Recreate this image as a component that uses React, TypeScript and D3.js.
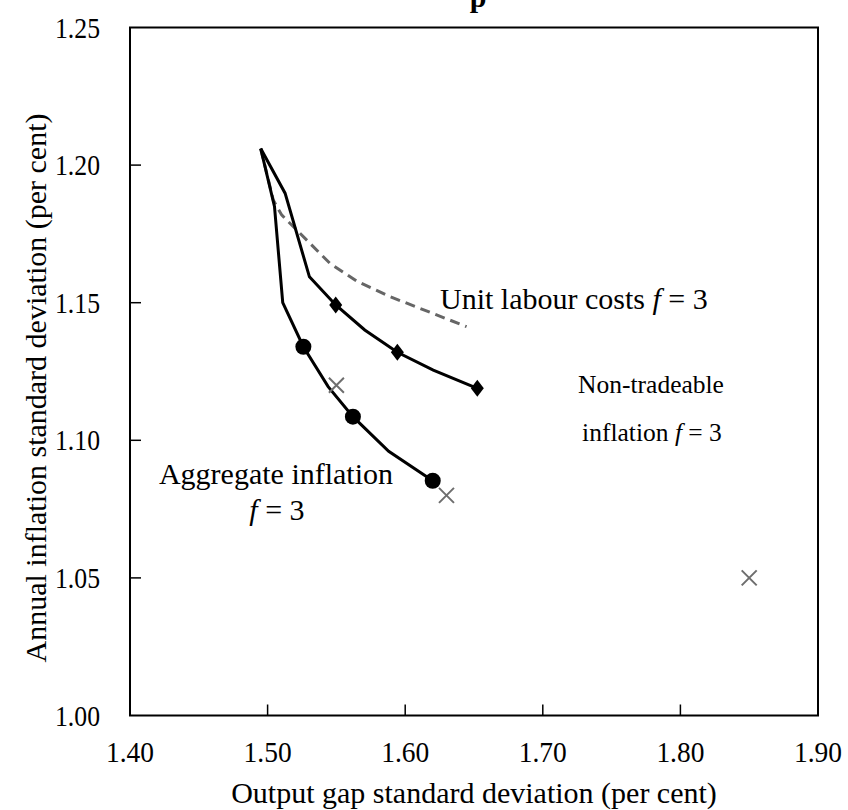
import React from "react";
import * as d3 from "d3";

const xTicks = [1.4, 1.5, 1.6, 1.7, 1.8, 1.9];
const yTicks = [1.0, 1.05, 1.1, 1.15, 1.2, 1.25];

// Aggregate inflation frontier (f = 3)
const aggLine: [number, number][] = [
  [1.495, 1.206], [1.505, 1.185], [1.511, 1.15], [1.526, 1.134],
  [1.544, 1.1195], [1.562, 1.1086], [1.588, 1.096], [1.62, 1.0853],
];
const aggMarkers: [number, number][] = [[1.526, 1.134], [1.562, 1.1086], [1.62, 1.0853]];

// Non-tradeable inflation frontier (f = 3)
const ntLine: [number, number][] = [
  [1.495, 1.206], [1.5127, 1.1898], [1.5304, 1.1594], [1.5495, 1.1492],
  [1.5706, 1.1401], [1.5943, 1.132], [1.6204, 1.1255], [1.6524, 1.1189],
];
const ntMarkers: [number, number][] = [[1.5495, 1.1492], [1.5943, 1.132], [1.6524, 1.1189]];

// Unit labour costs frontier (f = 3)
const ulcLine: [number, number][] = [
  [1.495, 1.206], [1.5041, 1.1873], [1.5102, 1.1819], [1.5453, 1.1643],
  [1.5648, 1.1578], [1.589, 1.1522], [1.6446, 1.1413],
];

// Single points (crosses)
const crossPoints: [number, number][] = [[1.55, 1.12], [1.63, 1.08], [1.85, 1.05]];

const W = 848, H = 810;
const L = 130, R = 818, T = 27.5, B = 715.5;
const FONT = "'Liberation Serif', 'Times New Roman', serif";

export default function App() {
  const x = d3.scaleLinear().domain([1.4, 1.9]).range([L, R]);
  const y = d3.scaleLinear().domain([1.0, 1.25]).range([B, T]);
  const line = d3.line<[number, number]>().x(d => x(d[0])).y(d => y(d[1]));
  const fs = 30;
  const tfs = 29;
  return (
    <svg width={W} height={H} style={{ position: "absolute", left: 0, top: 0, background: "#fff" }}
      fontFamily={FONT}>
      <text x={478} y={7} fontSize={30} fontWeight="bold" textAnchor="middle">p</text>
      {/* box */}
      <rect x={L} y={T} width={R - L} height={B - T} fill="none" stroke="#000" strokeWidth={2} />
      {/* ticks */}
      {xTicks.slice(1, -1).map(t => (
        <line key={"xt" + t} x1={x(t)} x2={x(t)} y1={B} y2={B - 11} stroke="#000" strokeWidth={1.5} />
      ))}
      {yTicks.slice(1, -1).map(t => (
        <line key={"yt" + t} x1={L} x2={L + 11} y1={y(t)} y2={y(t)} stroke="#000" strokeWidth={1.5} />
      ))}
      {xTicks.map(t => (
        <text key={"xl" + t} x={x(t) - 24} y={762} fontSize={tfs} textLength={48}
          lengthAdjust="spacingAndGlyphs">{t.toFixed(2)}</text>
      ))}
      {yTicks.map(t => (
        <text key={"yl" + t} x={55} y={y(t) + 10} fontSize={tfs} textLength={45}
          lengthAdjust="spacingAndGlyphs">{t.toFixed(2)}</text>
      ))}
      <text x={474} y={803} fontSize={fs} textAnchor="middle">Output gap standard deviation (per cent)</text>
      <text transform={`translate(46,388) rotate(-90)`} fontSize={fs} textAnchor="middle">
        Annual inflation standard deviation (per cent)
      </text>

      {/* lines */}
      <path d={line(ulcLine) || ""} fill="none" stroke="#666" strokeWidth={3} strokeDasharray="10,6" />
      <path d={line(ntLine) || ""} fill="none" stroke="#000" strokeWidth={3} />
      <path d={line(aggLine) || ""} fill="none" stroke="#000" strokeWidth={3} />

      {aggMarkers.map((p, i) => (
        <circle key={"c" + i} cx={x(p[0])} cy={y(p[1])} r={8} fill="#000" />
      ))}
      {ntMarkers.map((p, i) => {
        const cx = x(p[0]), cy = y(p[1]);
        return <path key={"d" + i} d={`M${cx},${cy - 8.5}L${cx + 6.5},${cy}L${cx},${cy + 8.5}L${cx - 6.5},${cy}Z`} fill="#000" />;
      })}
      {crossPoints.map((p, i) => {
        const cx = x(p[0]), cy = y(p[1]), s = 7.5;
        return (
          <path key={"x" + i} d={`M${cx - s},${cy - s}L${cx + s},${cy + s}M${cx - s},${cy + s}L${cx + s},${cy - s}`}
            stroke="#6e6e6e" strokeWidth={2} fill="none" />
        );
      })}

      {/* labels */}
      <text x={440} y={309} fontSize={fs}>Unit labour costs <tspan fontStyle="italic">f</tspan> = 3</text>
      <text x={651} y={393} fontSize={25.5} textAnchor="middle">Non-tradeable</text>
      <text x={652} y={441} fontSize={25.5} textAnchor="middle">inflation <tspan fontStyle="italic">f</tspan> = 3</text>
      <text x={276} y={484} fontSize={fs} textAnchor="middle">Aggregate inflation</text>
      <text x={277} y={520} fontSize={fs} textAnchor="middle"><tspan fontStyle="italic">f</tspan> = 3</text>
    </svg>
  );
}
